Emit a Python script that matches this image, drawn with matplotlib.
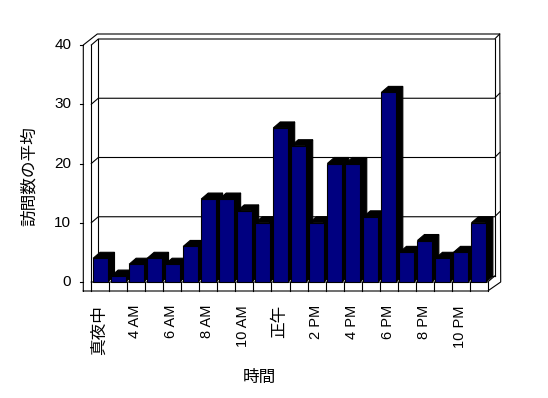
import matplotlib
matplotlib.use('Agg')
import matplotlib.pyplot as plt
from matplotlib.patches import Polygon
from matplotlib.lines import Line2D
from matplotlib.transforms import IdentityTransform

plt.rcParams['font.family'] = ['Liberation Sans', 'Noto Sans CJK JP', 'DejaVu Sans']

# data
hours = ['真夜中', '1 AM', '4 AM', '5 AM', '6 AM', '7 AM', '8 AM', '9 AM', '10 AM', '11 AM',
         '正午', '1 PM', '2 PM', '3 PM', '4 PM', '5 PM', '6 PM', '7 PM', '8 PM', '9 PM',
         '10 PM', '11 PM']
visits = [4, 1, 3, 4, 3, 6, 14, 14, 12, 10, 26, 23, 10, 20, 20, 11, 32, 5, 7, 4, 5, 10]
yticks = [0, 10, 20, 30, 40]

W, H = 548, 398
fig = plt.figure(figsize=(W / 100, H / 100), dpi=100)
fig.patch.set_facecolor('white')
ax = fig.add_axes([91.3 / W, 116 / H, 396.4 / W, 237 / H])
n = len(hours)
x0, x1 = -0.5, n - 0.5
ax.set_xlim(x0, x1)
ax.set_ylim(0, 40)
ax.axis('off')

DX, DY = 7, -6   # depth offset in pixels (right, down)
lw = 0.8
idt = IdentityTransform()


def P(x, v, ox=0, oy=0):
    px, py = ax.transData.transform((x, v))
    return (px + ox, py - oy)


def line(*pts, z=1):
    xs = [p[0] for p in pts]
    ys = [p[1] for p in pts]
    ax.add_line(Line2D(xs, ys, color='black', lw=lw, transform=idt, clip_on=False, zorder=z))


# back wall gridlines and frame
for v in yticks[1:]:
    line(P(x0, v), P(x0, v, DX, DY), P(x1, v, DX, DY), P(x1, v, DX + 5, DY - 5))
line(P(x0, 0, DX, DY), P(x0, 40, DX, DY))
line(P(x1, 0, DX, DY), P(x1, 40, DX, DY))
line(P(x0, 0, DX, DY), P(x1, 0, DX, DY))
# left wall
line(P(x0, 0), P(x0, 40))
line(P(x0, 0, -8, 9), P(x0, 40, -8, 0), P(x0, 40, DX - 1, DY - 5),
     P(x1, 40, DX + 5, DY - 5), P(x1, 0, DX + 6, 0), P(x1, 0, 0, 9), P(x0, 0, -8, 9))
# floor
line(P(x0, 0), P(x1, 0), P(x1, 0, DX, DY))
for k in range(n + 1):
    b = k - 0.5
    line(P(b, 0), P(b, 0, 0, 9))

# y ticks
for v in yticks:
    line(P(x0, v, -8, 0), P(x0, v, -11, 0))
    ax.annotate(str(v), xy=(x0, v), xytext=(-20, 0), textcoords='offset pixels',
                ha='right', va='center', fontsize=11, annotation_clip=False)

# bars
w = 0.8
bars = ax.bar(range(n), visits, width=w, color='#000080', edgecolor='black', linewidth=lw)
for i, (v, b) in enumerate(zip(visits, bars)):
    l, r = i - w / 2, i + w / 2
    side = Polygon([P(r, 0), P(r, v), P(r, v, DX, DY), P(r, 0, DX, DY)], closed=True,
                   facecolor='black', edgecolor='black', lw=lw, transform=idt, clip_on=False,
                   zorder=3 + 2 * i)
    top = Polygon([P(l, v), P(r, v), P(r, v, DX, DY), P(l, v, DX, DY)], closed=True,
                  facecolor='black', edgecolor='black', lw=lw, transform=idt, clip_on=False,
                  zorder=3 + 2 * i)
    ax.add_patch(side)
    ax.add_patch(top)
    b.set_zorder(4 + 2 * i)
    b.set_clip_on(False)

# x tick labels (every other category)
for i, lab in enumerate(hours):
    if i % 2:
        continue
    size = 10.5 if lab.isascii() else 12
    ax.annotate(lab, xy=(i, 0), xytext=(-1, -23), textcoords='offset pixels',
                rotation=90, ha='center', va='top', fontsize=size, annotation_clip=False)

fig.text(259 / W, 1 - 377 / H, '時間', ha='center', va='center', fontsize=12)
fig.text(29.5 / W, 1 - 176 / H, '訪問数の平均', ha='center', va='center', rotation=90, fontsize=12)

fig.savefig('out.png', dpi=100, facecolor='white')
